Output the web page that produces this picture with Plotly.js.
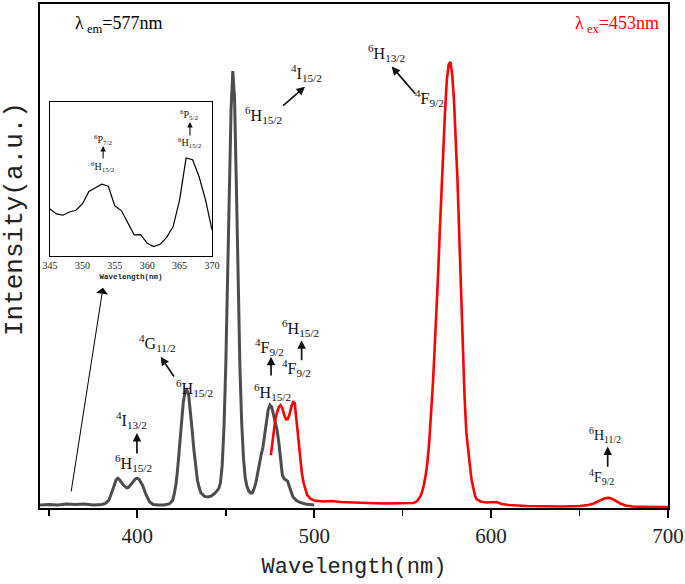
<!DOCTYPE html>
<html>
<head>
<meta charset="utf-8">
<script src="https://cdn.plot.ly/plotly-3.0.1.min.js"></script>
<style>html,body{margin:0;padding:0;background:#fff;}#chart{width:685px;height:584px;}</style>
</head>
<body>
<div id="chart"></div>
<script>
// Excitation spectrum (lambda_em = 577 nm), grey
const excWavelength = [345,350,355,360,365,370,375,380,382,384,386,388,389,390,392,394,395,397,399,400,401,403,405,407,409,412,415,418,420,421,422,423,424,425,426,427,428,429,430,431,432,433,434,435,436,438,440,442,444,446,447,448,449,450,451,452,453,454,455,456,457,458,459,460,461,462,463,464,465,466,467,468,469,470,471,472,473,474,475,476,477,478,479,480,481,482,483,484,485,486,487,488,490,492,495,500];
const excIntensity  = [0.6,0.7,0.6,0.8,0.7,0.8,0.6,0.7,0.9,1.6,3.5,5.6,5.9,5.6,4.6,4.0,4.1,5.0,5.8,5.9,5.7,4.5,2.6,1.2,0.7,0.6,0.6,0.8,1.5,3,5,8.5,13,17.5,21,23,23.4,22.5,19.5,15.5,11.5,8,5.5,4,3,2.3,2.2,2.4,3,3.8,5,8.5,16,28,44,62,79,86.7,81,64,44,28,17,10,6,4.3,3.4,3.0,3.0,3.8,5,7,9,10.5,12,14.5,17.5,19.5,20.4,20,18.5,17,15.5,13,9,6.5,5.8,5.6,5.3,4.2,3,2.2,1.5,1.1,0.8,0.6];

// Emission spectrum (lambda_ex = 453 nm), red
const emWavelength = [475.5,476,477,478,479,480,481,482,483,484,485,486,487,488,489,490,491,492,493,494,495,496,498,500,505,510,515,520,530,540,550,556,558,560,561,562,563,564,565,566,567,568,569,570,571,572,573,574,575,576,577,578,579,580,581,582,583,584,585,586,587,588,589,590,591,592,594,597,600,603,606,610,620,630,640,650,655,658,661,664,666,668,670,673,676,680,690,700];
const emIntensity  = [10.5,12,15,17.5,19,20,20.4,19.8,18.5,17.6,17.6,18.5,20,21,20.8,17,13,10,7,5,3.5,2.6,1.8,1.5,1.3,1.4,1.2,1.1,1.0,0.9,1.0,1.0,1.3,2.3,3.2,4.5,6.5,9,13,18,24,31,38,46,55,64,72,79,85,88,88.5,86,81,74,65,54,42,31,22,15,11,8.5,5.5,3.5,2.3,1.7,1.3,1.1,1.1,1.2,0.8,0.6,0.4,0.3,0.3,0.4,0.6,0.9,1.4,1.9,2.0,1.9,1.5,0.9,0.5,0.3,0.2,0.2];

// Inset: excitation 345-370 nm
const insetWavelength = [345,346,347,348,349,350,351,352,353,354,355,356,357,358,359,360,361,362,363,364,365,366,367,368,369,370];
const insetIntensity  = [30.6,27.3,26.5,28.6,29.7,33.8,41.9,44.5,46.6,45.3,32.5,29.5,21.7,13.7,13.9,8.2,6.1,7.6,12.1,19.1,36.4,63.6,62.5,51.6,36.4,16.9];

const mainTicks = [400,500,600,700];
const insetTicks = [345,350,355,360,365,370];

const serif = 'Liberation Serif, Times New Roman, serif';
const mono = 'Liberation Mono, Courier New, monospace';

const traces = [
  {x: excWavelength, y: excIntensity, type:'scatter', mode:'lines', line:{color:'#4d4d4d', width:3}, xaxis:'x', yaxis:'y', hoverinfo:'skip', name:'Excitation'},
  {x: emWavelength, y: emIntensity, type:'scatter', mode:'lines', line:{color:'#ff0000', width:2.6}, xaxis:'x', yaxis:'y', hoverinfo:'skip', name:'Emission'},
  {x: insetWavelength, y: insetIntensity, type:'scatter', mode:'lines', line:{color:'#000', width:1.2}, xaxis:'x2', yaxis:'y2', hoverinfo:'skip', name:'Inset'}
];

function lbl(text, x, y, size, opts) {
  return Object.assign({text:text, x:x, y:y, xref:'x', yref:'y', showarrow:false, xanchor:'center', yanchor:'middle', font:{family:serif, size:size||16, color:'#111'}}, opts||{});
}
function arr(x0, y0, x1, y1, xr, yr, w) {
  return {text:'', x:x1, y:y1, ax:x0, ay:y0, xref:xr||'x', yref:yr||'y', axref:xr||'x', ayref:yr||'y', showarrow:true, arrowhead:2, arrowsize:1, arrowwidth:w||1.7, arrowcolor:'#111'};
}

const H152 = '<sup>6</sup>H<sub>15/2</sub>';
const F92 = '<sup>4</sup>F<sub>9/2</sub>';

const annotations = [
  lbl('λ<sub> em</sub>=577nm', 363.7, 96.0, 18, {xanchor:'left', font:{family:serif, size:18, color:'#000'}}),
  lbl('λ<sub> ex</sub>=453nm', 696.0, 96.0, 18, {xanchor:'right', font:{family:serif, size:18, color:'#ff0000'}}),

  lbl('<sup>4</sup>I<sub>15/2</sub>', 495.8, 86.3),
  arr(481.6, 79.6, 494.8, 83.6),
  lbl(H152, 471.6, 78.0),

  lbl('<sup>6</sup>H<sub>13/2</sub>', 541.0, 90.3),
  arr(557.9, 81.9, 543.8, 87.6),
  lbl(F92, 564.9, 81.3),

  lbl('<sup>4</sup>G<sub>11/2</sub>', 411.7, 32.7),
  arr(421.3, 25.8, 413.2, 30.0),
  lbl(H152, 432.6, 23.8),

  lbl('<sup>4</sup>I<sub>13/2</sub>', 396.8, 17.5),
  arr(399.8, 10.5, 399.8, 14.9),
  lbl(H152, 398.1, 8.9),

  lbl(F92, 475.0, 31.9),
  arr(475.6, 26.0, 475.6, 30.0),
  lbl(H152, 476.7, 23.0),

  lbl(H152, 492.5, 35.7),
  arr(492.9, 29.0, 492.9, 33.3),
  lbl(F92, 490.1, 27.8),

  lbl('<sup>6</sup>H<sub>11/2</sub>', 664.4, 14.5, 14),
  arr(665.9, 7.9, 665.9, 12.2),
  lbl(F92, 662.5, 6.2, 14),

  // long pointer to inset
  {text:'', x:380.6, y:43.7, ax:362.5, ay:3.0, xref:'x', yref:'y', axref:'x', ayref:'y', showarrow:true, arrowhead:1, arrowsize:2, arrowwidth:1, arrowcolor:'#000'},

  // inset labels
  lbl('<sup>6</sup>P<sub>7/2</sub>', 353.2, 75.3, 10, {xref:'x2', yref:'y2'}),
  arr(353.2, 62.3, 353.2, 71.4, 'x2', 'y2', 1.1),
  lbl(H152, 353.2, 57.8, 10, {xref:'x2', yref:'y2'}),
  lbl('<sup>6</sup>P<sub>5/2</sub>', 366.6, 91.6, 10, {xref:'x2', yref:'y2'}),
  arr(366.6, 77.3, 366.6, 87.0, 'x2', 'y2', 1.1),
  lbl(H152, 366.6, 73.2, 10, {xref:'x2', yref:'y2'}),

  // y title
  {text:'Intensity(a.u.)', xref:'paper', yref:'paper', x:-0.040, y:0.573, textangle:-90, showarrow:false, xanchor:'center', yanchor:'middle', font:{family:mono, size:26, color:'#222'}}
];

const layout = {
  width:685, height:584, autosize:false,
  margin:{l:40, r:17, t:4, b:76},
  paper_bgcolor:'#fff', plot_bgcolor:'#fff',
  showlegend:false,
  xaxis:{
    range:[345,700], tickmode:'array', tickvals:mainTicks, ticktext:mainTicks.map(String),
    ticks:'outside', ticklen:8, tickwidth:2, tickcolor:'#000',
    minor:{tickmode:'linear', tick0:350, dtick:50, ticks:'outside', ticklen:6, tickwidth:1.5, tickcolor:'#000', showgrid:false},
    showline:true, linecolor:'#000', linewidth:2, mirror:true,
    showgrid:false, zeroline:false,
    tickfont:{family:serif, size:21, color:'#222'},
    title:{text:'Wavelength(nm)', font:{family:mono, size:22, color:'#222'}, standoff:10}
  },
  yaxis:{
    range:[0,100], showticklabels:false, ticks:'',
    showline:true, linecolor:'#000', linewidth:2, mirror:true,
    showgrid:false, zeroline:false
  },
  xaxis2:{
    domain:[0.0159,0.2739], anchor:'y2', range:[345,370],
    tickmode:'array', tickvals:insetTicks, ticktext:insetTicks.map(String), ticks:'',
    showline:true, linecolor:'#000', linewidth:1, mirror:true,
    showgrid:false, zeroline:false,
    tickfont:{family:serif, size:10, color:'#222'},
    title:{text:'<b>Wavelength(nm)</b>', font:{family:mono, size:7.5, color:'#222'}, standoff:3}
  },
  yaxis2:{
    domain:[0.5,0.8056], anchor:'x2', range:[0,100], showticklabels:false, ticks:'',
    showline:true, linecolor:'#000', linewidth:1, mirror:true,
    showgrid:false, zeroline:false
  },
  annotations:annotations
};

Plotly.newPlot('chart', traces, layout, {displayModeBar:false, staticPlot:true});
</script>
</body>
</html>
